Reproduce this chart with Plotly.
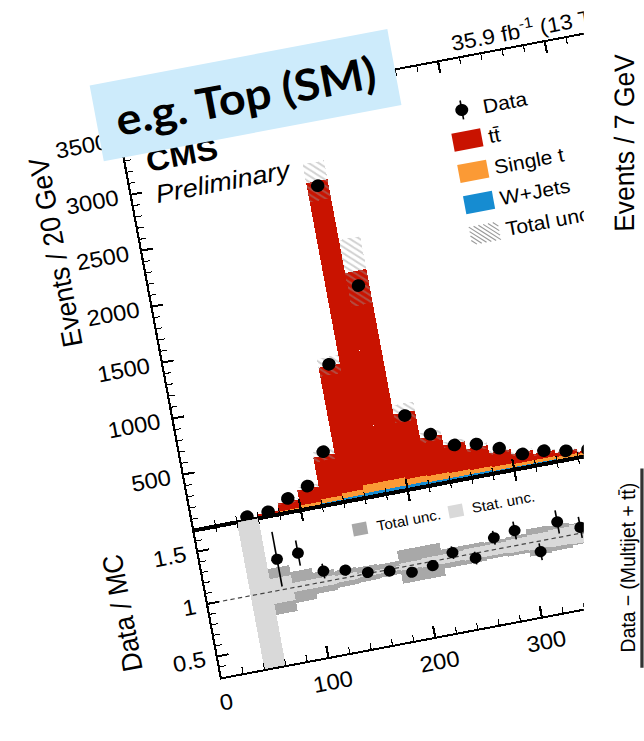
import plotly.graph_objects as go

# ---------------- data ----------------
bin_centers = [50, 70, 90, 110, 130, 150, 170, 190, 210, 230, 250, 270, 290, 310, 330, 350, 370]
bin_width = 20
data_counts = [32, 40, 123, 197, 468, 1213, 2772, 1844, 647, 444, 312, 284, 211, 123, 116, 79, 55]
ttbar = [1, 22, 72, 141, 374, 1122, 2702, 1856, 579, 341, 253, 188, 124, 83, 54, 34, 21]
single_t = [1, 5, 12, 22, 35, 45, 70, 72, 55, 48, 42, 38, 34, 30, 26, 22, 18]
wjets = [1, 4, 10, 16, 28, 34, 42, 44, 40, 36, 32, 30, 27, 24, 21, 19, 16]
mc_unc = [2, 8, 15, 25, 45, 80, 170, 300, 80, 45, 30, 25, 20, 18, 15, 12, 10]

ratio_x = [70, 90, 110, 130, 150, 170, 190, 210, 230, 250, 270, 290, 310, 330, 350]
ratio_vals = [1.29, 1.31, 1.10, 1.07, 1.01, 0.985, 0.935, 0.96, 1.045, 0.955, 1.11, 1.14, 0.90, 1.145, 1.055]
ratio_err = [0.26, 0.12, 0.07, 0.05, 0.04, 0.03, 0.04, 0.05, 0.06, 0.06, 0.065, 0.085, 0.08, 0.11, 0.10]
total_unc = [1.0, 0.22, 0.15, 0.10, 0.08, 0.07, 0.06, 0.16, 0.16, 0.09, 0.09, 0.08, 0.09, 0.13, 0.12, 0.10, 0.10]
stat_unc = [1.0, 0.12, 0.04, 0.04, 0.03, 0.02, 0.02, 0.03, 0.04, 0.04, 0.05, 0.05, 0.06, 0.07, 0.08, 0.09, 0.10]

main_yticks = [500, 1000, 1500, 2000, 2500, 3000, 3500]
ratio_yticks = [0.5, 1, 1.5]
ratio_yticktext = ["0.5", "1", "1.5"]
xticks = [0, 100, 200, 300, 400, 500]
xticktext = ["0", "100", "200", "300", "", ""]   # 400 and 500 lie in the cut-off part

XRANGE = [0, 500]
YRANGE = [0, 3640]
RRANGE = [0.3, 1.7]

# ---------------- geometry (source frame, later skewed by CSS) ----------------
M_L, M_R, M_T, M_B = 107, 80, 60, 100
PLOT_W, PLOT_H = 500, 556
W_FIG, H_FIG = M_L + PLOT_W + M_R, M_T + PLOT_H + M_B
RATIO_FRAC = 147.3 / PLOT_H
MAIN_H = PLOT_H * (1 - RATIO_FRAC)
PX_PER_EVT = MAIN_H / (YRANGE[1] - YRANGE[0])
RATIO_H = PLOT_H * RATIO_FRAC
PX_PER_R = RATIO_H / (RRANGE[1] - RRANGE[0])

FONT = "Liberation Sans, Arial, Helvetica, sans-serif"
C_TT, C_ST, C_W = "#c91300", "#fb9a35", "#168cd1"
C_TOT, C_STAT = "#a8a8a8", "#d9d9d9"

# stacked bases
base_st = [w for w in wjets]
base_tt = [w + s for w, s in zip(wjets, single_t)]
mc_total = [w + s + t for w, s, t in zip(wjets, single_t, ttbar)]
unc_base = [m - u for m, u in zip(mc_total, mc_unc)]
unc_height = [2 * u for u in mc_unc]

fig = go.Figure()

def bar(y, base, color, **kw):
    return go.Bar(x=bin_centers, y=y, base=base, width=bin_width, marker=dict(color=color, line=dict(width=0)),
                  showlegend=False, hoverinfo="skip", **kw)

fig.add_trace(bar(wjets, [0] * len(wjets), C_W, name="W+Jets"))
fig.add_trace(bar(single_t, base_st, C_ST, name="Single t"))
fig.add_trace(bar(ttbar, base_tt, C_TT, name="tt̄"))
fig.add_trace(go.Bar(x=bin_centers, y=unc_height, base=unc_base, width=bin_width, name="Total unc.",
                     marker=dict(color="rgba(0,0,0,0)", line=dict(width=0),
                                 pattern=dict(shape="\\", fgcolor="rgba(150,150,150,0.9)",
                                              bgcolor="rgba(0,0,0,0)", size=5, solidity=0.35,
                                              fillmode="overlay")),
                     showlegend=False, hoverinfo="skip"))
fig.add_trace(go.Scatter(x=bin_centers, y=data_counts, mode="markers", name="Data",
                         marker=dict(color="black", size=12.5), showlegend=False))

# ratio panel
fig.add_trace(go.Bar(x=bin_centers, y=[2 * u for u in total_unc], base=[1 - u for u in total_unc],
                     width=bin_width, xaxis="x2", yaxis="y2", marker=dict(color=C_TOT, line=dict(width=0)),
                     showlegend=False, name="Total unc."))
fig.add_trace(go.Bar(x=bin_centers, y=[2 * u for u in stat_unc], base=[1 - u for u in stat_unc],
                     width=bin_width, xaxis="x2", yaxis="y2", marker=dict(color=C_STAT, line=dict(width=0)),
                     showlegend=False, name="Stat. unc."))
fig.add_trace(go.Scatter(x=XRANGE, y=[1, 1], xaxis="x2", yaxis="y2", mode="lines",
                         line=dict(color="#444444", width=1.2, dash="4px,3px"), showlegend=False))
fig.add_trace(go.Scatter(x=ratio_x, y=ratio_vals, xaxis="x2", yaxis="y2", mode="markers",
                         marker=dict(color="black", size=11),
                         error_y=dict(type="data", array=ratio_err, thickness=1.5, width=0, color="black"),
                         showlegend=False, name="Data / MC"))

axis_common = dict(showline=True, linewidth=2, linecolor="black", mirror="ticks", showgrid=False,
                   zeroline=False, ticks="inside", tickcolor="black", tickwidth=1.5,
                   tickfont=dict(family=FONT, size=22, color="black"))
fig.update_layout(
    width=W_FIG, height=H_FIG,
    margin=dict(l=M_L, r=M_R, t=M_T, b=M_B, pad=0),
    paper_bgcolor="white", plot_bgcolor="white",
    barmode="overlay", bargap=0,
    showlegend=False,
    xaxis=dict(domain=[0, 1], anchor="y", range=XRANGE, showticklabels=False, tickmode="array", tickvals=xticks,
               ticklen=11,
               minor=dict(ticks="inside", dtick=20, tick0=0, ticklen=6, tickwidth=1.2, tickcolor="black"),
               **axis_common),
    xaxis2=dict(domain=[0, 1], anchor="y2", range=XRANGE, showticklabels=True, tickmode="array", tickvals=xticks,
                ticktext=xticktext, ticklen=11, ticklabelstandoff=4,
                minor=dict(ticks="inside", dtick=20, tick0=0, ticklen=6, tickwidth=1.2, tickcolor="black"),
                **axis_common),
    yaxis=dict(domain=[RATIO_FRAC, 1], anchor="x", range=YRANGE, tickmode="array", tickvals=main_yticks,
               ticklen=10, ticklabelstandoff=6,
               minor=dict(ticks="inside", tickvals=list(range(100, 3700, 100)), ticklen=5.5, tickwidth=1.2,
                          tickcolor="black"),
               **axis_common),
    yaxis2=dict(domain=[0, RATIO_FRAC], anchor="x2", range=RRANGE, tickmode="array", tickvals=ratio_yticks,
                ticktext=ratio_yticktext, ticklen=10, ticklabelstandoff=5,
                minor=dict(ticks="inside", tickvals=[round(0.3 + 0.1 * i, 1) for i in range(15)], ticklen=5.5,
                           tickwidth=1.2, tickcolor="black"),
                **axis_common),
)

# ---------------- legend (drawn by hand, CMS style) ----------------
leg_x = 313.3          # GeV, swatch centre
leg_text_x = 331       # GeV
leg_rows = [3190, 2922, 2642, 2364, 2088]
sw_half_w = 13.5       # GeV (= px)
sw_half_h = 9 / PX_PER_EVT
shapes = []
for yc, col in zip(leg_rows[1:4], [C_TT, C_ST, C_W]):
    shapes.append(dict(type="rect", xref="x", yref="y", x0=leg_x - sw_half_w, x1=leg_x + sw_half_w,
                       y0=yc - sw_half_h, y1=yc + sw_half_h, fillcolor=col, line=dict(width=0)))
# data marker in legend
r_px = 6.0
shapes.append(dict(type="line", xref="x", yref="y", x0=leg_x, x1=leg_x,
                   y0=leg_rows[0] - 9.5 / PX_PER_EVT, y1=leg_rows[0] + 9.5 / PX_PER_EVT,
                   line=dict(color="black", width=1.5)))
shapes.append(dict(type="circle", xref="x", yref="y", x0=leg_x - r_px, x1=leg_x + r_px,
                   y0=leg_rows[0] - r_px / PX_PER_EVT, y1=leg_rows[0] + r_px / PX_PER_EVT,
                   fillcolor="black", line=dict(width=0)))
# hatched swatch
hx0, hx1 = leg_x - sw_half_w, leg_x + sw_half_w
hy1 = leg_rows[4] + sw_half_h
Wpx, Hpx = hx1 - hx0, 2 * sw_half_h * PX_PER_EVT
path = ""
o = -Hpx
while o < Wpx:
    xs = max(o, 0.0)
    xe = min(Wpx, o + Hpx)
    if xe > xs:
        path += "M{:.2f},{:.2f} L{:.2f},{:.2f} ".format(hx0 + xs, hy1 - (xs - o) / PX_PER_EVT,
                                                       hx0 + xe, hy1 - (xe - o) / PX_PER_EVT)
    o += 4.5
shapes.append(dict(type="path", xref="x", yref="y", path=path, line=dict(color="#9a9a9a", width=1.1)))
# ratio legend squares
rq_w, rq_h = 6.75, 6.15 / PX_PER_R
for xc, col in [(150.2, C_TOT), (240.1, C_STAT)]:
    shapes.append(dict(type="rect", xref="x2", yref="y2", x0=xc - rq_w, x1=xc + rq_w,
                       y0=1.423 - rq_h, y1=1.423 + rq_h, fillcolor=col, line=dict(width=0)))
fig.update_layout(shapes=shapes)

ann = []
def A(**kw):
    d = dict(showarrow=False, font=dict(family=FONT, size=20, color="black"))
    d.update(kw)
    ann.append(d)

A(text="Events / 20 GeV", xref="paper", yref="paper", x=-0.158, y=0.7957, textangle=-90,
  xanchor="center", yanchor="middle", font=dict(family=FONT, size=26, color="black"))
A(text="Data / MC", xref="paper", yref="paper", x=-0.158, y=0.1437, textangle=-90,
  xanchor="center", yanchor="middle", font=dict(family=FONT, size=26, color="black"))
A(text="<b>CMS</b>", xref="paper", yref="paper", x=0.034, y=0.924, xanchor="left", yanchor="middle",
  font=dict(family=FONT, size=30, color="black"))
A(text="<i>Preliminary</i>", xref="paper", yref="paper", x=0.040, y=0.864, xanchor="left", yanchor="middle",
  font=dict(family=FONT, size=25, color="black"))
A(text="<b>e.g. Top (SM)</b>", xref="paper", yref="paper", x=0.2396, y=1.0054, xanchor="center",
  yanchor="middle", width=278, height=75, bgcolor="#cdebfb", borderpad=0, align="center", valign="middle",
  font=dict(family="Lato, Open Sans, sans-serif", size=43, color="black"))
A(text="35.9 fb<sup>-1</sup> (13 TeV)", xref="paper", yref="paper", x=0.6256, y=1.0313, xanchor="left",
  yanchor="middle", font=dict(family=FONT, size=21, color="black"))
for txt, yc in zip(["Data", "tt̄", "Single t", "W+Jets", "Total unc."], leg_rows):
    A(text=txt, xref="x", yref="y", x=leg_text_x, y=yc, xanchor="left", yanchor="middle",
      font=dict(family=FONT, size=19.5, color="black"))
for txt, xc in [("Total unc.", 163.7), ("Stat. unc.", 252.8)]:
    A(text=txt, xref="x2", yref="y2", x=xc, y=1.425, xanchor="left", yanchor="middle",
      font=dict(family=FONT, size=14, color="black"))
# white cover: the picture is cut at the right, where another panel starts
A(text=" ", xref="paper", yref="paper", x=1.1734, y=0.4535, xanchor="center", yanchor="middle",
  width=400, height=1250, bgcolor="white", borderpad=0, textangle=9.9)
# neighbouring panel (unskewed)
A(text="Events / 7 GeV", xref="paper", yref="paper", x=0.9108, y=0.7996, xanchor="center", yanchor="middle",
  textangle=-80.1, font=dict(family=FONT, size=26, color="black"))
A(text="Data − (Multijet + tt̄)", xref="paper", yref="paper", x=0.7710, y=0.0575, xanchor="center",
  yanchor="middle", textangle=-80.1, font=dict(family=FONT, size=19, color="black"))
A(text=" ", xref="paper", yref="paper", x=0.7988, y=0.0520, xanchor="center", yanchor="middle",
  width=1.6, height=195, bgcolor="#333333", borderpad=0, textangle=9.9)
fig.update_layout(annotations=ann)

post = """
var gd = document.getElementById('{plot_id}');
document.documentElement.style.margin = '0';
document.body.style.margin = '0';
document.body.style.overflow = 'hidden';
document.body.style.background = 'white';
gd.style.transformOrigin = '0 0';
gd.style.transform = 'matrix(1.0667,-0.202,0.1862,0.997,-7.1,84.7)';
"""
fig.write_html("out.html", config={"displayModeBar": False}, post_script=post)
